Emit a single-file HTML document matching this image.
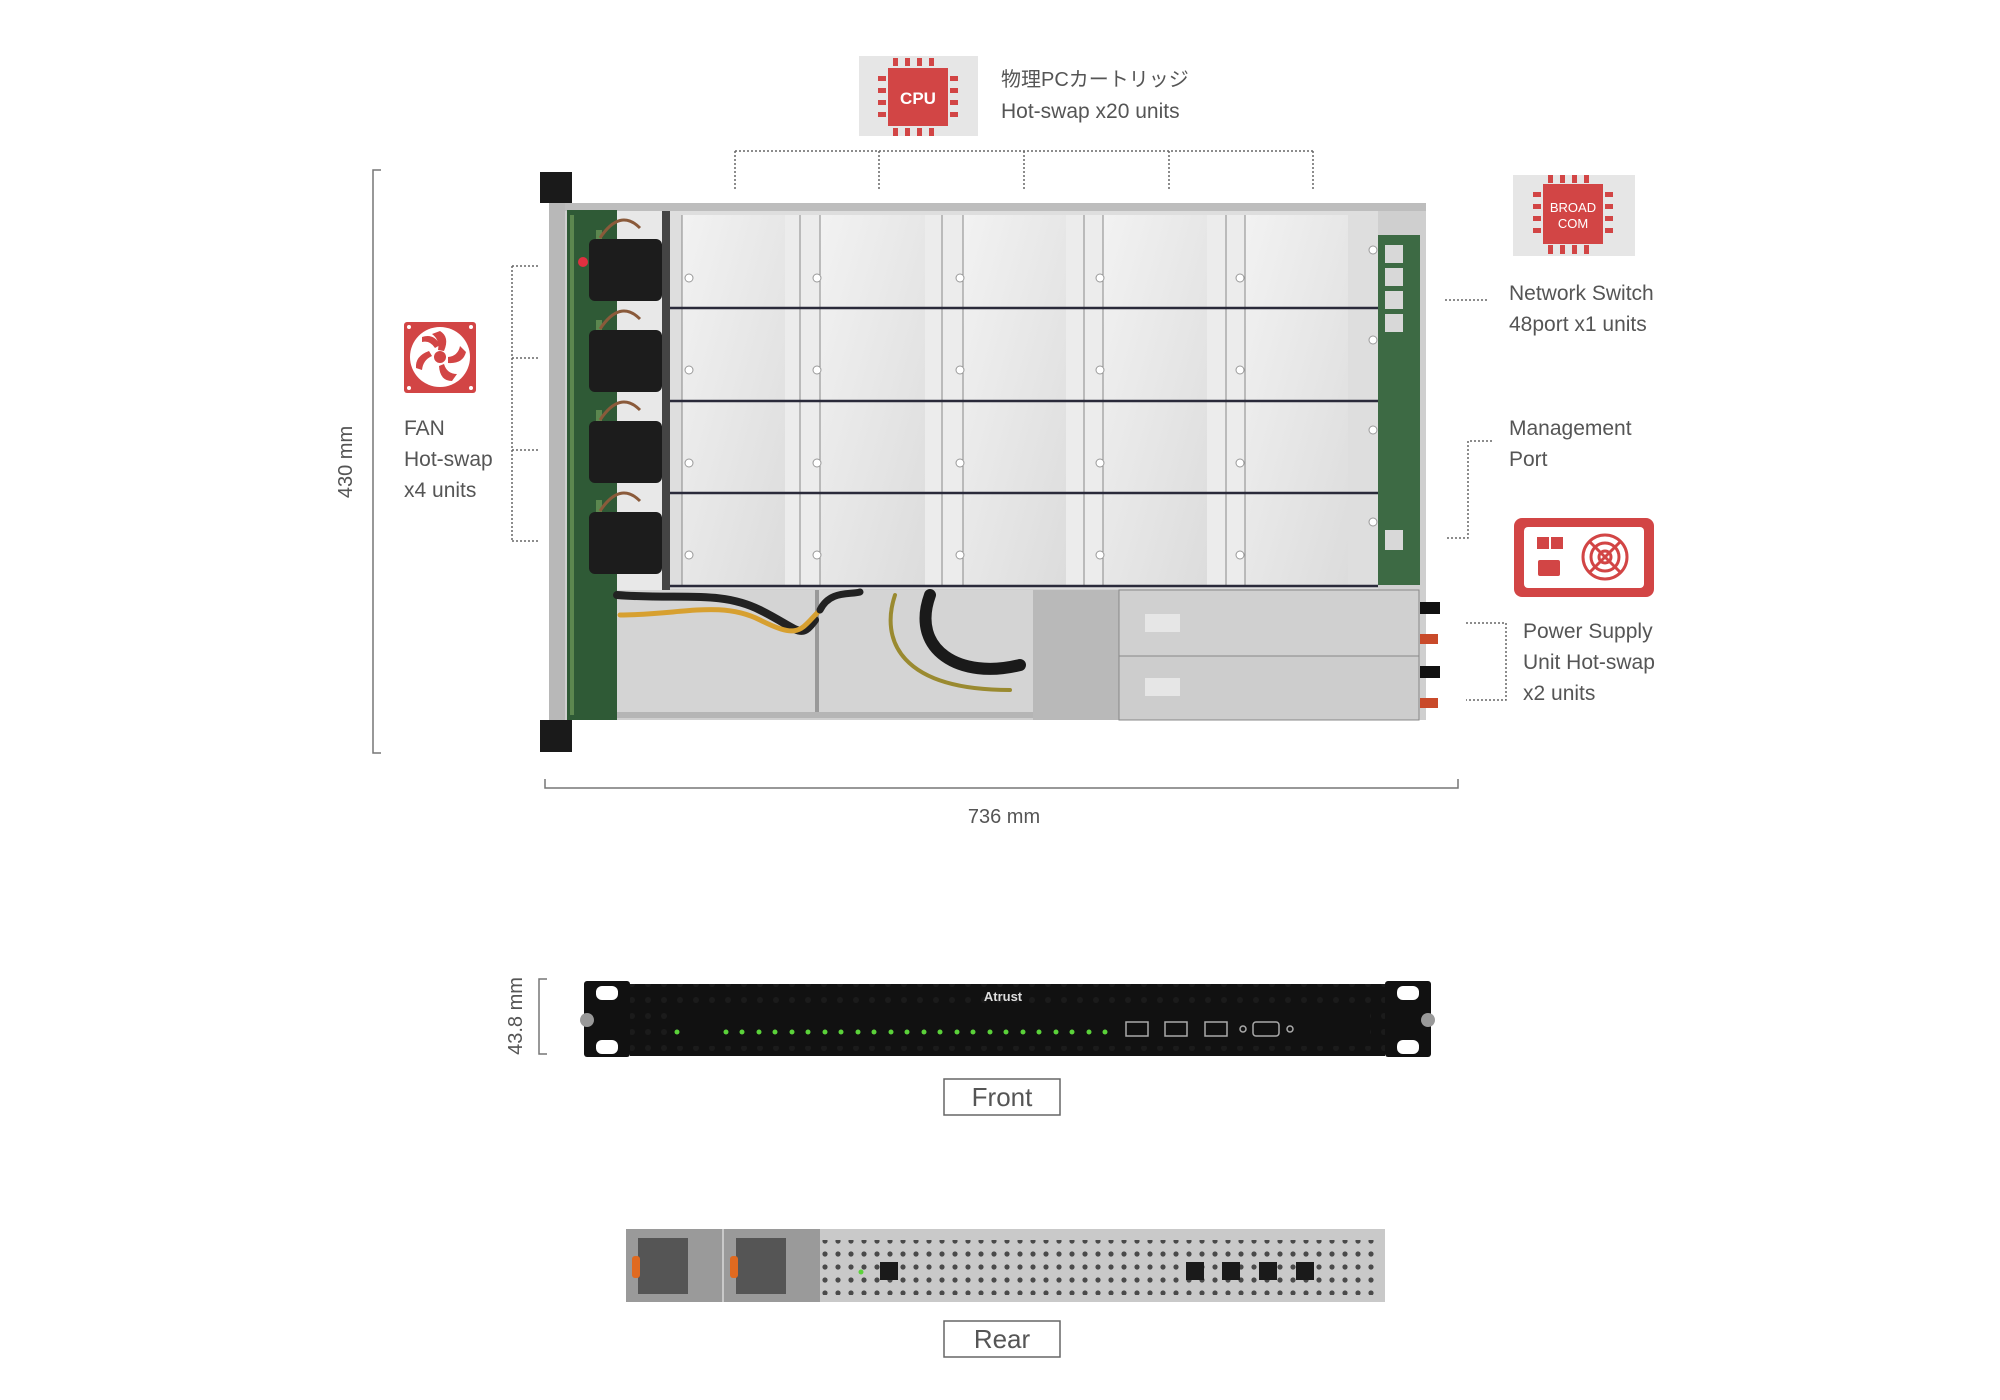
<!DOCTYPE html>
<html><head><meta charset="utf-8"><style>
html,body{margin:0;padding:0;background:#fff;}
svg{display:block;}
text{font-family:"Liberation Sans","Noto Sans CJK JP",sans-serif;fill:#555;}
</style></head><body>
<svg width="2000" height="1400" viewBox="0 0 2000 1400" xmlns="http://www.w3.org/2000/svg">
<defs>
<pattern id="holes" width="16" height="16" patternUnits="userSpaceOnUse"><circle cx="8" cy="8" r="3" fill="#222"/></pattern>
<pattern id="holesR" width="13" height="13" patternUnits="userSpaceOnUse"><circle cx="6" cy="6" r="2.6" fill="#333"/></pattern>
<linearGradient id="bay" x1="0" y1="0" x2="1" y2="1"><stop offset="0" stop-color="#f2f2f2"/><stop offset="1" stop-color="#dcdcdc"/></linearGradient>
</defs>

<!-- CPU icon -->
<rect x="859" y="56" width="119" height="80" fill="#e6e6e6"/>
<g fill="#d24545">
<rect x="888" y="68" width="60" height="58"/>
<rect x="893" y="58" width="5" height="8"/><rect x="905" y="58" width="5" height="8"/><rect x="917" y="58" width="5" height="8"/><rect x="929" y="58" width="5" height="8"/>
<rect x="893" y="128" width="5" height="8"/><rect x="905" y="128" width="5" height="8"/><rect x="917" y="128" width="5" height="8"/><rect x="929" y="128" width="5" height="8"/>
<rect x="878" y="76" width="8" height="5"/><rect x="878" y="88" width="8" height="5"/><rect x="878" y="100" width="8" height="5"/><rect x="878" y="112" width="8" height="5"/>
<rect x="950" y="76" width="8" height="5"/><rect x="950" y="88" width="8" height="5"/><rect x="950" y="100" width="8" height="5"/><rect x="950" y="112" width="8" height="5"/>
</g>
<text x="918" y="104" font-size="17" font-weight="bold" text-anchor="middle" style="fill:#fff">CPU</text>
<text x="1001" y="86" font-size="20">物理PCカートリッジ</text>
<text x="1001" y="118" font-size="21">Hot-swap x20 units</text>

<!-- top bracket -->
<g stroke="#666" stroke-width="1.5" stroke-dasharray="2,2" fill="none">
<path d="M735 151 H1313 M735 151 V191 M879 151 V191 M1024 151 V191 M1169 151 V191 M1313 151 V191"/>
</g>

<!-- Dimension 430 -->
<path d="M381 170 H373 V753 H381" stroke="#777" stroke-width="1.5" fill="none"/>
<text x="0" y="0" font-size="20" text-anchor="middle" transform="translate(352,462) rotate(-90)">430 mm</text>
<!-- 736 -->
<path d="M545 779 V788 H1458 V779" stroke="#777" stroke-width="1.5" fill="none"/>
<text x="1004" y="823" font-size="20" text-anchor="middle">736 mm</text>

<!-- FAN icon -->
<rect x="404" y="322" width="72" height="71" rx="3" fill="#d24545"/>
<circle cx="440" cy="357" r="30" fill="#fff"/>
<g fill="#d24545">
<circle cx="440" cy="357" r="6"/>
<path d="M440 331 q10 6 4 20 l-6 -1 q2 -10 -6 -16z"/>
<path d="M466 352 q-3 12 -18 11 l0 -6 q10 -1 12 -11z"/>
<path d="M452 381 q-12 0 -13 -15 l5 -2 q3 10 13 10z"/>
<path d="M416 368 q-1 -12 13 -17 l3 5 q-9 4 -10 14z"/>
<path d="M422 337 q12 -4 18 8 l-5 3 q-5 -8 -13 -6z"/>
<circle cx="409" cy="327" r="2"/><circle cx="471" cy="327" r="2"/><circle cx="409" cy="388" r="2"/><circle cx="471" cy="388" r="2"/>
</g>
<circle cx="409" cy="327" r="2" fill="#fff"/><circle cx="471" cy="327" r="2" fill="#fff"/><circle cx="409" cy="388" r="2" fill="#fff"/><circle cx="471" cy="388" r="2" fill="#fff"/>
<text x="404" y="435" font-size="21">FAN</text>
<text x="404" y="466" font-size="21">Hot-swap</text>
<text x="404" y="497" font-size="21">x4 units</text>
<g stroke="#666" stroke-width="1.5" stroke-dasharray="2,2" fill="none">
<path d="M512 266 V541 M512 266 H538 M512 358 H538 M512 450 H538 M512 541 H538"/>
</g>

<!-- Chassis -->
<rect x="540" y="172" width="32" height="31" fill="#1a1a1a"/>
<rect x="540" y="720" width="32" height="32" fill="#1a1a1a"/>
<rect x="549" y="203" width="877" height="517" fill="#cfcfcf"/>
<rect x="549" y="203" width="877" height="8" fill="#bdbdbd"/>
<rect x="549" y="203" width="16" height="517" fill="#b8b8b8"/>
<rect x="567" y="210" width="50" height="510" fill="#2f5a36"/>
<g fill="#6f9a5a" opacity="0.7">
<rect x="570" y="215" width="4" height="500"/><rect x="596" y="230" width="6" height="40"/><rect x="596" y="320" width="6" height="40"/><rect x="596" y="410" width="6" height="40"/><rect x="596" y="500" width="6" height="40"/>
</g>
<circle cx="583" cy="262" r="5" fill="#e03040"/>
<!-- fans -->
<rect x="617" y="211" width="50" height="380" fill="#e8e8e8"/>
<g fill="#1c1c1c">
<rect x="589" y="239" width="73" height="62" rx="6"/>
<rect x="589" y="330" width="73" height="62" rx="6"/>
<rect x="589" y="421" width="73" height="62" rx="6"/>
<rect x="589" y="512" width="73" height="62" rx="6"/>
</g>
<g fill="none" stroke="#8a5a3a" stroke-width="3">
<path d="M600 238 q20 -30 40 -10"/><path d="M600 329 q20 -30 40 -10"/><path d="M600 420 q20 -30 40 -10"/><path d="M600 511 q20 -30 40 -10"/>
</g>
<rect x="662" y="211" width="8" height="380" fill="#444"/>
<!-- drive bays -->
<rect x="670" y="211" width="708" height="378" fill="#dedede"/>
<g>
<rect x="682" y="215" width="103" height="370" fill="url(#bay)"/>
<rect x="820" y="215" width="105" height="370" fill="url(#bay)"/>
<rect x="963" y="215" width="103" height="370" fill="url(#bay)"/>
<rect x="1103" y="215" width="104" height="370" fill="url(#bay)"/>
<rect x="1245" y="215" width="103" height="370" fill="url(#bay)"/>
</g>
<g fill="#ececec">
<rect x="785" y="215" width="35" height="370"/><rect x="925" y="215" width="38" height="370"/><rect x="1066" y="215" width="37" height="370"/><rect x="1207" y="215" width="38" height="370"/>
</g>
<g stroke="#888" stroke-width="1">
<path d="M800 215 V585 M942 215 V585 M1084 215 V585 M1226 215 V585 M682 215 V585 M820 215 V585 M963 215 V585 M1103 215 V585 M1245 215 V585"/>
</g>
<g stroke="#2a2a3a" stroke-width="2.5">
<path d="M670 308 H1378 M670 401 H1378 M670 493 H1378 M670 586 H1378"/>
</g>
<g fill="#fff" stroke="#999" stroke-width="1">
<circle cx="689" cy="278" r="4"/><circle cx="689" cy="370" r="4"/><circle cx="689" cy="463" r="4"/><circle cx="689" cy="555" r="4"/>
<circle cx="817" cy="278" r="4"/><circle cx="817" cy="370" r="4"/><circle cx="817" cy="463" r="4"/><circle cx="817" cy="555" r="4"/>
<circle cx="960" cy="278" r="4"/><circle cx="960" cy="370" r="4"/><circle cx="960" cy="463" r="4"/><circle cx="960" cy="555" r="4"/>
<circle cx="1100" cy="278" r="4"/><circle cx="1100" cy="370" r="4"/><circle cx="1100" cy="463" r="4"/><circle cx="1100" cy="555" r="4"/>
<circle cx="1240" cy="278" r="4"/><circle cx="1240" cy="370" r="4"/><circle cx="1240" cy="463" r="4"/><circle cx="1240" cy="555" r="4"/>
<circle cx="1373" cy="250" r="4"/><circle cx="1373" cy="340" r="4"/><circle cx="1373" cy="430" r="4"/><circle cx="1373" cy="522" r="4"/>
</g>
<!-- right PCB -->
<rect x="1378" y="235" width="42" height="350" fill="#3d6a44"/>
<g fill="#d8d8d8"><rect x="1385" y="245" width="18" height="18"/><rect x="1385" y="268" width="18" height="18"/><rect x="1385" y="291" width="18" height="18"/><rect x="1385" y="314" width="18" height="18"/><rect x="1385" y="530" width="18" height="20"/></g>
<!-- lower area -->
<rect x="617" y="590" width="416" height="128" fill="#d4d4d4"/>
<rect x="815" y="590" width="4" height="128" fill="#999"/>
<rect x="617" y="712" width="416" height="6" fill="#b5b5b5"/>
<g fill="none" stroke-linecap="round">
<path d="M617 595 C680 600 720 590 760 610 S800 640 815 620" stroke="#222" stroke-width="8"/>
<path d="M620 615 C680 615 720 600 760 620 S800 630 820 610" stroke="#d7a030" stroke-width="5"/>
<path d="M820 610 C830 590 850 595 860 592" stroke="#222" stroke-width="7"/>
<path d="M930 595 C910 650 960 680 1020 665" stroke="#1a1a1a" stroke-width="12"/>
<path d="M895 595 C880 640 900 690 1010 690" stroke="#9a8a30" stroke-width="4"/>
</g>
<!-- PSUs -->
<rect x="1033" y="590" width="86" height="130" fill="#b9b9b9"/>
<rect x="1119" y="590" width="300" height="66" fill="#d0d0d0" stroke="#888"/>
<rect x="1119" y="656" width="300" height="64" fill="#cdcdcd" stroke="#888"/>
<rect x="1145" y="614" width="35" height="18" fill="#e6e6e6"/>
<rect x="1145" y="678" width="35" height="18" fill="#e6e6e6"/>
<rect x="1420" y="602" width="20" height="12" fill="#111"/><rect x="1420" y="634" width="18" height="10" fill="#c94a2a"/>
<rect x="1420" y="666" width="20" height="12" fill="#111"/><rect x="1420" y="698" width="18" height="10" fill="#c94a2a"/>

<!-- Broadcom icon -->
<rect x="1513" y="175" width="122" height="81" fill="#e6e6e6"/>
<g fill="#d24545">
<rect x="1543" y="184" width="60" height="60"/>
<rect x="1548" y="175" width="5" height="8"/><rect x="1560" y="175" width="5" height="8"/><rect x="1572" y="175" width="5" height="8"/><rect x="1584" y="175" width="5" height="8"/>
<rect x="1548" y="245" width="5" height="9"/><rect x="1560" y="245" width="5" height="9"/><rect x="1572" y="245" width="5" height="9"/><rect x="1584" y="245" width="5" height="9"/>
<rect x="1533" y="192" width="8" height="5"/><rect x="1533" y="204" width="8" height="5"/><rect x="1533" y="216" width="8" height="5"/><rect x="1533" y="228" width="8" height="5"/>
<rect x="1605" y="192" width="8" height="5"/><rect x="1605" y="204" width="8" height="5"/><rect x="1605" y="216" width="8" height="5"/><rect x="1605" y="228" width="8" height="5"/>
</g>
<text x="1573" y="212" font-size="13" text-anchor="middle" style="fill:#fff">BROAD</text>
<text x="1573" y="228" font-size="13" text-anchor="middle" style="fill:#fff">COM</text>
<text x="1509" y="300" font-size="21">Network Switch</text>
<text x="1509" y="331" font-size="21">48port x1 units</text>
<path d="M1445 300 H1487" stroke="#666" stroke-width="1.5" stroke-dasharray="2,2"/>
<text x="1509" y="435" font-size="21">Management</text>
<text x="1509" y="466" font-size="21">Port</text>
<path d="M1492 441 H1468 V538 H1445" stroke="#666" stroke-width="1.5" stroke-dasharray="2,2" fill="none"/>

<!-- PSU icon -->
<rect x="1514" y="518" width="140" height="79" rx="8" fill="#d24545"/>
<rect x="1524" y="527" width="120" height="61" rx="4" fill="#fff"/>
<g fill="#d24545">
<rect x="1537" y="537" width="12" height="12"/><rect x="1551" y="537" width="12" height="12"/>
<rect x="1538" y="560" width="22" height="16" rx="2"/>
</g>
<g fill="none" stroke="#d24545" stroke-width="3">
<circle cx="1605" cy="557" r="22"/><circle cx="1605" cy="557" r="14"/><circle cx="1605" cy="557" r="6"/>
<path d="M1590 542 L1620 572 M1620 542 L1590 572"/>
</g>
<text x="1523" y="638" font-size="21">Power Supply</text>
<text x="1523" y="669" font-size="21">Unit Hot-swap</text>
<text x="1523" y="700" font-size="21">x2 units</text>
<path d="M1466 623 H1506 V700 H1466" stroke="#666" stroke-width="1.5" stroke-dasharray="2,2" fill="none"/>

<!-- Front -->
<path d="M547 979 H539 V1054 H547" stroke="#777" stroke-width="1.5" fill="none"/>
<text x="0" y="0" font-size="20" text-anchor="middle" transform="translate(522,1016) rotate(-90)">43.8 mm</text>
<rect x="584" y="981" width="46" height="76" rx="3" fill="#111"/>
<rect x="1385" y="981" width="46" height="76" rx="3" fill="#111"/>
<g fill="#fff"><rect x="596" y="986" width="22" height="14" rx="6"/><rect x="596" y="1040" width="22" height="14" rx="6"/><rect x="1397" y="986" width="22" height="14" rx="6"/><rect x="1397" y="1040" width="22" height="14" rx="6"/></g>
<circle cx="587" cy="1020" r="7" fill="#999"/><circle cx="1428" cy="1020" r="7" fill="#999"/>
<rect x="630" y="984" width="755" height="72" fill="#111"/>
<rect x="630" y="984" width="755" height="72" fill="url(#holes)" opacity="0.6"/>
<rect x="670" y="1010" width="700" height="36" fill="#111"/>
<text x="1003" y="1001" font-size="13" font-weight="bold" text-anchor="middle" style="fill:#ddd">Atrust</text>
<g fill="#5bd23a">
<circle cx="677" cy="1032" r="2.5"/>
<circle cx="726" cy="1032" r="2.5"/><circle cx="742" cy="1032" r="2.5"/><circle cx="759" cy="1032" r="2.5"/><circle cx="775" cy="1032" r="2.5"/><circle cx="792" cy="1032" r="2.5"/><circle cx="808" cy="1032" r="2.5"/><circle cx="825" cy="1032" r="2.5"/><circle cx="841" cy="1032" r="2.5"/><circle cx="858" cy="1032" r="2.5"/><circle cx="874" cy="1032" r="2.5"/><circle cx="891" cy="1032" r="2.5"/><circle cx="907" cy="1032" r="2.5"/><circle cx="924" cy="1032" r="2.5"/><circle cx="940" cy="1032" r="2.5"/><circle cx="957" cy="1032" r="2.5"/><circle cx="973" cy="1032" r="2.5"/><circle cx="990" cy="1032" r="2.5"/><circle cx="1006" cy="1032" r="2.5"/><circle cx="1023" cy="1032" r="2.5"/><circle cx="1039" cy="1032" r="2.5"/><circle cx="1056" cy="1032" r="2.5"/><circle cx="1072" cy="1032" r="2.5"/><circle cx="1089" cy="1032" r="2.5"/><circle cx="1105" cy="1032" r="2.5"/>
</g>
<g fill="none" stroke="#aaa" stroke-width="1.5">
<rect x="1126" y="1022" width="22" height="14"/><rect x="1165" y="1022" width="22" height="14"/><rect x="1205" y="1022" width="22" height="14"/><rect x="1253" y="1022" width="26" height="14" rx="3"/>
<circle cx="1243" cy="1029" r="3"/><circle cx="1290" cy="1029" r="3"/>
</g>
<rect x="944" y="1079" width="116" height="36" fill="#fff" stroke="#666" stroke-width="1.5"/>
<text x="1002" y="1106" font-size="26" text-anchor="middle">Front</text>

<!-- Rear -->
<rect x="626" y="1229" width="759" height="73" fill="#c9c9c9"/>
<rect x="820" y="1240" width="560" height="55" fill="url(#holesR)" opacity="0.85"/>
<rect x="626" y="1229" width="96" height="73" fill="#9a9a9a"/>
<rect x="724" y="1229" width="96" height="73" fill="#9a9a9a"/>
<rect x="638" y="1238" width="50" height="56" fill="#555"/><rect x="736" y="1238" width="50" height="56" fill="#555"/>
<rect x="632" y="1256" width="8" height="22" rx="3" fill="#e06a20"/><rect x="730" y="1256" width="8" height="22" rx="3" fill="#e06a20"/>
<g fill="#1a1a1a"><rect x="880" y="1262" width="18" height="18"/><rect x="1186" y="1262" width="18" height="18"/><rect x="1222" y="1262" width="18" height="18"/><rect x="1259" y="1262" width="18" height="18"/><rect x="1296" y="1262" width="18" height="18"/></g>
<circle cx="861" cy="1272" r="2.5" fill="#5bd23a"/>
<rect x="944" y="1321" width="116" height="36" fill="#fff" stroke="#666" stroke-width="1.5"/>
<text x="1002" y="1348" font-size="26" text-anchor="middle">Rear</text>
</svg>
</body></html>
